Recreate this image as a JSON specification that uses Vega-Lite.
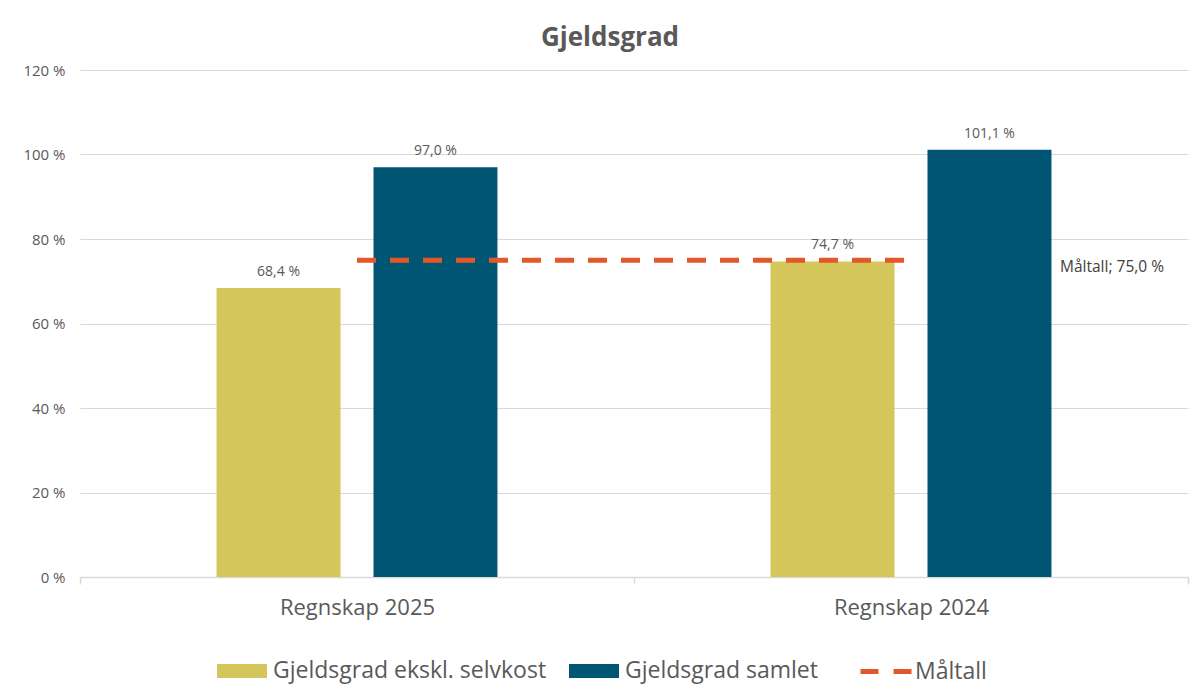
{
  "$schema": "https://vega.github.io/schema/vega-lite/v6.json",
  "width": 1108,
  "height": 507,
  "autosize": "none",
  "padding": {"left": 80, "top": 70, "right": 9, "bottom": 121},
  "background": "white",
  "config": {
    "font": "Open Sans",
    "view": {"stroke": null},
    "locale": {"number": {"decimal": ",", "thousands": " ", "grouping": [3], "currency": ["", " kr"]}}
  },
  "title": {
    "text": "Gjeldsgrad",
    "font": "Open Sans",
    "fontSize": 26,
    "fontWeight": "bold",
    "color": "#595959",
    "anchor": "middle",
    "dx": -24,
    "offset": 12
  },
  "datasets": {
    "bars": [
      {"period": "Regnskap 2025", "series": "Gjeldsgrad ekskl. selvkost", "value": 68.4},
      {"period": "Regnskap 2025", "series": "Gjeldsgrad samlet", "value": 97.0},
      {"period": "Regnskap 2024", "series": "Gjeldsgrad ekskl. selvkost", "value": 74.7},
      {"period": "Regnskap 2024", "series": "Gjeldsgrad samlet", "value": 101.1}
    ],
    "target": [
      {"period": "Regnskap 2025", "series": "Måltall", "value": 75.0},
      {"period": "Regnskap 2024", "series": "Måltall", "value": 75.0}
    ]
  },
  "encoding": {
    "x": {
      "field": "period",
      "type": "nominal",
      "sort": ["Regnskap 2025", "Regnskap 2024"],
      "scale": {"paddingInner": 0, "paddingOuter": 0},
      "axis": {
        "title": null,
        "labelAngle": 0,
        "labelFont": "Open Sans",
        "labelFontSize": 22,
        "labelColor": "#595959",
        "labelPadding": 13,
        "domainColor": "#d9d9d9",
        "domainWidth": 1.5,
        "tickColor": "#d9d9d9",
        "tickWidth": 1.5,
        "tickSize": 7,
        "tickBand": "extent",
        "grid": false
      }
    },
    "y": {
      "field": "value",
      "type": "quantitative",
      "scale": {"domain": [0, 120], "nice": false},
      "axis": {
        "title": null,
        "values": [0, 20, 40, 60, 80, 100, 120],
        "labelExpr": "datum.value + '  %'",
        "labelFont": "Open Sans",
        "labelFontSize": 15,
        "labelColor": "#595959",
        "labelPadding": 15,
        "domain": false,
        "ticks": false,
        "grid": true,
        "gridColor": "#d9d9d9",
        "gridWidth": 1.2
      }
    }
  },
  "layer": [
    {
      "data": {"name": "bars"},
      "mark": {"type": "bar"},
      "encoding": {
        "xOffset": {
          "field": "series",
          "sort": ["Gjeldsgrad ekskl. selvkost", "Gjeldsgrad samlet"],
          "scale": {"paddingInner": 0.21, "paddingOuter": 0.87}
        },
        "color": {
          "field": "series",
          "type": "nominal",
          "scale": {
            "domain": ["Gjeldsgrad ekskl. selvkost", "Gjeldsgrad samlet"],
            "range": ["#D4C65A", "#005573"]
          },
          "legend": {
            "orient": "none",
            "legendX": 137,
            "legendY": 576,
            "direction": "horizontal",
            "title": null,
            "symbolType": "M-1,-0.28H1V0.28H-1Z",
            "symbolSize": 2500,
            "symbolStrokeWidth": 0,
            "symbolOpacity": 1,
            "labelFont": "Open Sans",
            "labelFontSize": 23,
            "labelColor": "#595959",
            "labelOffset": 6,
            "labelLimit": 400,
            "columnPadding": 22
          }
        }
      }
    },
    {
      "data": {"name": "bars"},
      "transform": [
        {"calculate": "replace(format(datum.value, '.1f'), '.', ',') + ' %'", "as": "label"}
      ],
      "mark": {
        "type": "text",
        "baseline": "bottom",
        "dy": -9,
        "font": "Open Sans",
        "fontSize": 14,
        "color": "#595959"
      },
      "encoding": {
        "xOffset": {
          "field": "series",
          "sort": ["Gjeldsgrad ekskl. selvkost", "Gjeldsgrad samlet"]
        },
        "text": {"field": "label"}
      }
    },
    {
      "data": {"name": "target"},
      "mark": {
        "type": "line",
        "strokeWidth": 5,
        "strokeDash": [19, 14],
        "strokeCap": "butt"
      },
      "encoding": {
        "stroke": {
          "field": "series",
          "type": "nominal",
          "scale": {"domain": ["Måltall"], "range": ["#E2582A"]},
          "legend": {
            "orient": "none",
            "legendX": 778,
            "legendY": 573,
            "title": null,
            "symbolType": "stroke",
            "symbolSize": 2704,
            "symbolStrokeWidth": 5,
            "symbolDash": [18, 15],
            "labelFont": "Open Sans",
            "labelFontSize": 23,
            "labelColor": "#595959",
            "labelOffset": 0
          }
        }
      }
    },
    {
      "data": {"name": "target"},
      "transform": [
        {"filter": "datum.period === 'Regnskap 2024'"},
        {"calculate": "datum.series + '; ' + replace(format(datum.value, '.1f'), '.', ',') + ' %'", "as": "label"}
      ],
      "mark": {
        "type": "text",
        "align": "left",
        "baseline": "middle",
        "dx": 149,
        "dy": 7,
        "font": "Open Sans",
        "fontSize": 15.5,
        "color": "#404040"
      },
      "encoding": {
        "text": {"field": "label"}
      }
    }
  ]
}
